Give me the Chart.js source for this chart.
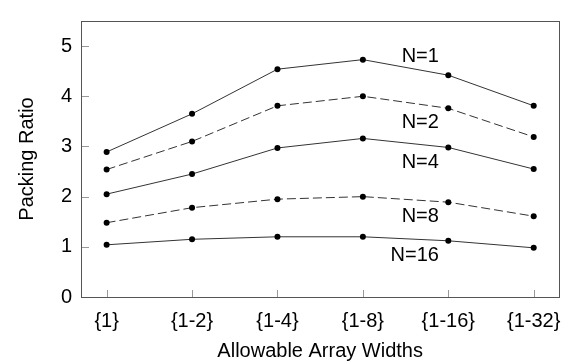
<!DOCTYPE html>
<html>
<head>
<meta charset="utf-8">
<script src="https://cdn.jsdelivr.net/npm/chart.js@4"></script>
<style>
  html, body { margin: 0; padding: 0; background: #fff; }
  #wrap { width: 573px; height: 364px; }
</style>
</head>
<body>
<div id="wrap"><canvas id="chart"></canvas></div>
<script>
const widths = ['{1}', '{1-2}', '{1-4}', '{1-8}', '{1-16}', '{1-32}'];
const yTicks = [0, 1, 2, 3, 4, 5];

const n1 = [2.89, 3.65, 4.54, 4.73, 4.42, 3.81];
const n2 = [2.54, 3.10, 3.81, 4.00, 3.76, 3.19];
const n4 = [2.05, 2.45, 2.97, 3.16, 2.98, 2.55];
const n8 = [1.48, 1.78, 1.95, 2.00, 1.89, 1.61];
const n16 = [1.04, 1.15, 1.20, 1.20, 1.12, 0.98];

const seriesNames = ['N=1', 'N=2', 'N=4', 'N=8', 'N=16'];
// where the N= labels sit (value units)
const labelY = [4.80, 3.47, 2.69, 1.61, 0.82];
const labelX = 3.89;

const FONT = '"Liberation Sans", Arial, Helvetica, sans-serif';

function series(name, vals, dashed) {
  return {
    label: name,
    data: vals.map((v, i) => ({ x: i, y: v })),
    borderColor: '#333',
    borderWidth: 1,
    borderDash: dashed ? [9, 4] : [],
    pointRadius: 3,
    pointHoverRadius: 3,
    pointBackgroundColor: '#000',
    pointBorderColor: '#000',
    pointBorderWidth: 0,
    tension: 0,
    fill: false
  };
}

// frame box + inward tick marks
const framePlugin = {
  id: 'frame',
  beforeDatasetsDraw(chart) {
    const { ctx, chartArea: a, scales } = chart;
    ctx.save();
    ctx.lineWidth = 1;
    ctx.strokeStyle = '#999';
    ctx.beginPath();
    yTicks.forEach(v => {
      const y = Math.round(scales.y.getPixelForValue(v)) + 0.5;
      ctx.moveTo(a.left, y);
      ctx.lineTo(a.left + 8, y);
    });
    widths.forEach((w, i) => {
      const x = Math.round(scales.x.getPixelForValue(i)) + 0.5;
      ctx.moveTo(x, a.bottom);
      ctx.lineTo(x, a.bottom - 7);
    });
    ctx.stroke();
    ctx.strokeStyle = '#555';
    ctx.strokeRect(Math.round(a.left) + 0.5, Math.round(a.top) + 0.5,
      Math.round(a.right - a.left), Math.round(a.bottom - a.top));
    ctx.restore();
  },
  afterDatasetsDraw(chart) {
    const { ctx, scales } = chart;
    ctx.save();
    ctx.font = '20px ' + FONT;
    ctx.fillStyle = '#000';
    ctx.textAlign = 'right';
    ctx.textBaseline = 'middle';
    seriesNames.forEach((name, i) => {
      ctx.fillText(name, scales.x.getPixelForValue(labelX), scales.y.getPixelForValue(labelY[i]));
    });
    ctx.restore();
  }
};

new Chart(document.getElementById('chart'), {
  type: 'line',
  data: {
    datasets: [
      series('N=1', n1, false),
      series('N=2', n2, true),
      series('N=4', n4, false),
      series('N=8', n8, true),
      series('N=16', n16, false)
    ]
  },
  options: {
    responsive: true,
    maintainAspectRatio: false,
    animation: false,
    layout: { padding: { top: 9, right: 11, left: 0, bottom: 0 } },
    plugins: {
      legend: { display: false },
      tooltip: { enabled: false }
    },
    scales: {
      x: {
        type: 'linear',
        min: -0.3,
        max: 5.3,
        afterBuildTicks: s => { s.ticks = widths.map((w, i) => ({ value: i })); },
        afterFit: s => { s.height = 67; },
        grid: { display: false, drawTicks: false },
        border: { display: false },
        ticks: {
          padding: 12,
          color: '#000',
          font: { size: 20, family: FONT },
          maxRotation: 0,
          autoSkip: false,
          callback: v => widths[v]
        },
        title: {
          display: true,
          text: 'Allowable Array Widths',
          color: '#000',
          font: { size: 20, family: FONT },
          padding: { top: 0, bottom: 1 }
        }
      },
      y: {
        min: 0,
        max: 5.5,
        afterBuildTicks: s => { s.ticks = yTicks.map(v => ({ value: v })); },
        afterFit: s => { s.width = 81; },
        grid: { display: false, drawTicks: false },
        border: { display: false },
        ticks: {
          padding: 9,
          color: '#000',
          font: { size: 20, family: FONT }
        },
        title: {
          display: true,
          text: 'Packing Ratio',
          color: '#000',
          font: { size: 20, family: FONT },
          padding: { top: 15, bottom: 0 }
        }
      }
    }
  },
  plugins: [framePlugin]
});
</script>
</body>
</html>
